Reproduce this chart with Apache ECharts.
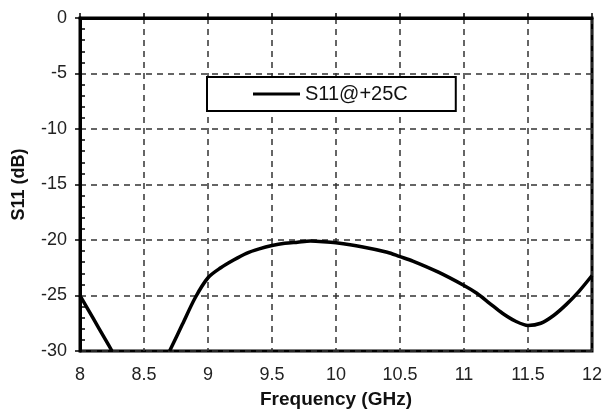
<!DOCTYPE html>
<html>
<head>
<meta charset="utf-8">
<script src="https://cdn.jsdelivr.net/npm/echarts@6/dist/echarts.min.js"></script>
<style>
  html, body { margin: 0; padding: 0; background: #fff; }
  #main { width: 605px; height: 411px; }
</style>
</head>
<body>
<div id="main"></div>
<script>
// S11 vs frequency
var freq = [8.0, 8.1, 8.2, 8.25, 8.5, 8.7, 8.8, 8.9, 9.0, 9.1, 9.2, 9.3, 9.4, 9.5, 9.6, 9.7, 9.8, 9.9,
            10.0, 10.2, 10.4, 10.5, 10.6, 10.8, 11.0, 11.1, 11.2, 11.3, 11.4, 11.5, 11.6, 11.7, 11.8, 11.9, 12.0];
var s11 = [-25, -27, -29, -30, null, -30, -27.6, -25.2, -23.4, -22.5, -21.8, -21.2, -20.8, -20.5, -20.3, -20.2, -20.1, -20.15,
           -20.25, -20.6, -21.1, -21.5, -21.9, -22.9, -24.1, -24.8, -25.7, -26.6, -27.3, -27.7, -27.5, -26.8, -25.8, -24.6, -23.2];
var seriesName = 'S11@+25C';

(function(){
    var chart = echarts.init(document.getElementById('main'));
    var pts = freq.map(function (f, i) { return [f, s11[i]]; });
    var font = '"Liberation Sans", Arial, sans-serif';

    var option = {
        backgroundColor: '#fff',
        animation: false,
        textStyle: { fontFamily: font },
        grid: {
            left: 80, right: 13, top: 18, bottom: 60,
            outerBoundsMode: 'none',
            show: true,
            borderColor: '#000',
            borderWidth: 3
        },
        legend: {
            data: [seriesName],
            left: 207,
            top: 77,
            icon: 'rect',
            itemWidth: 47,
            itemHeight: 3,
            padding: [7, 48, 7, 46],
            backgroundColor: '#fff',
            borderColor: '#000',
            borderWidth: 2,
            textStyle: { fontSize: 20, color: '#111', fontFamily: font }
        },
        xAxis: {
            type: 'value',
            min: 8, max: 12, interval: 0.5,
            name: 'Frequency (GHz)',
            nameLocation: 'middle',
            nameGap: 39,
            nameTextStyle: { fontSize: 19, fontWeight: 'bold', color: '#111' },
            axisLine: { lineStyle: { color: '#000', width: 3 } },
            axisTick: { show: true, inside: true, length: 5, lineStyle: { color: '#000', width: 1.5 } },
            axisLabel: { fontSize: 18, color: '#222', margin: 15 },
            splitLine: { lineStyle: { color: '#333', width: 1.5, type: [6, 5] } }
        },
        yAxis: {
            type: 'value',
            min: -30, max: 0, interval: 5,
            name: 'S11 (dB)',
            nameLocation: 'middle',
            nameGap: 52,
            nameTextStyle: { fontSize: 18, fontWeight: 'bold', color: '#111' },
            axisLine: { lineStyle: { color: '#000', width: 3 } },
            axisTick: { show: true, length: 5, lineStyle: { color: '#000', width: 1.5 } },
            minorTick: { show: true, splitNumber: 5, length: -5, lineStyle: { color: '#000', width: 1.5 } },
            axisLabel: { fontSize: 18, color: '#222', margin: 13 },
            splitLine: { lineStyle: { color: '#333', width: 1.5, type: [6, 5] } }
        },
        series: [
            {
                name: seriesName,
                type: 'line',
                data: pts,
                smooth: 0.3,
                symbol: 'none',
                clip: true,
                color: '#000',
                lineStyle: { color: '#000', width: 3.5 }
            }
        ]
    };

    chart.setOption(option);
})();
</script>
</body>
</html>
